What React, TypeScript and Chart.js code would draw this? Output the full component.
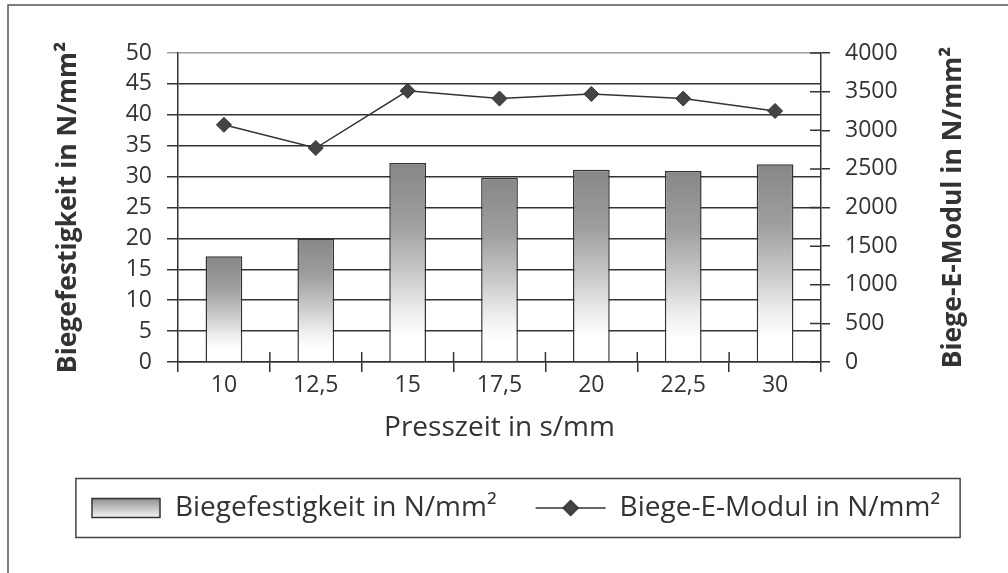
import React, { useEffect, useRef } from 'react';
import { Chart, registerables } from 'chart.js';

Chart.register(...registerables);

// ---- data ----
const categories = ['10', '12,5', '15', '17,5', '20', '22,5', '30'];
const strengthValues = [17.1, 20.0, 32.2, 29.8, 31.1, 30.9, 32.0];
const modulusValues = [3070, 2770, 3510, 3410, 3470, 3410, 3250];
const strengthLabel = 'Biegefestigkeit in N/mm²';
const modulusLabel = 'Biege-E-Modul in N/mm²';
const xTitle = 'Presszeit in s/mm';
const leftMax = 50;
const leftStep = 5;
const rightMax = 4000;
const rightStep = 500;

const FONT = "'Open Sans', 'Noto Sans', sans-serif";
const INK = '#333333';
const TITLE_SIZE = 26.5;

function addBarStops(g: CanvasGradient) {
  g.addColorStop(0, '#878787');
  g.addColorStop(0.3, '#9e9e9e');
  g.addColorStop(0.55, '#c8c8c8');
  g.addColorStop(0.75, '#eeeeee');
  g.addColorStop(0.88, '#ffffff');
  g.addColorStop(1, '#ffffff');
}

function makeBarSwatch() {
  const c = document.createElement('canvas');
  c.width = 70;
  c.height = 22;
  const x = c.getContext('2d')!;
  const g = x.createLinearGradient(0, 1.5, 0, 20.5);
  g.addColorStop(0, '#8e8e8e');
  g.addColorStop(0.5, '#c4c4c4');
  g.addColorStop(1, '#f4f4f4');
  x.fillStyle = g;
  x.fillRect(1, 1.5, 68, 19);
  x.strokeStyle = INK;
  x.lineWidth = 1.5;
  x.strokeRect(1, 1.5, 68, 19);
  return c;
}

function makeLineSwatch() {
  const c = document.createElement('canvas');
  c.width = 72;
  c.height = 18;
  const x = c.getContext('2d')!;
  x.strokeStyle = INK;
  x.lineWidth = 1.5;
  x.beginPath();
  x.moveTo(1, 9);
  x.lineTo(71, 9);
  x.stroke();
  x.fillStyle = '#444444';
  x.beginPath();
  x.moveTo(36 - 7.5, 9);
  x.lineTo(36, 9 - 7.5);
  x.lineTo(36 + 7.5, 9);
  x.lineTo(36, 9 + 7.5);
  x.closePath();
  x.fill();
  x.stroke();
  return c;
}

const decorPlugin = {
  id: 'decor',
  beforeDraw(chart: any) {
    const { ctx, width, height } = chart;
    ctx.save();
    ctx.fillStyle = '#ffffff';
    ctx.fillRect(0, 0, width, height);
    ctx.restore();
  },
  afterDraw(chart: any) {
    const { ctx } = chart;
    ctx.save();
    // outer frame (top + left)
    ctx.strokeStyle = '#555555';
    ctx.lineWidth = 1.5;
    ctx.beginPath();
    ctx.moveTo(8, chart.height);
    ctx.lineTo(8, 5);
    ctx.lineTo(chart.width, 5);
    ctx.stroke();

    // crossing tick marks (inner halves)
    const xs = chart.scales.x;
    const y2 = chart.scales.y2;
    ctx.strokeStyle = INK;
    ctx.lineWidth = 1.5;
    ctx.beginPath();
    const n = xs.ticks.length;
    const step = (xs.right - xs.left) / n;
    for (let i = 1; i < n; i++) {
      const x = xs.left + i * step;
      ctx.moveTo(x, xs.top - 10);
      ctx.lineTo(x, xs.top);
    }
    y2.ticks.forEach((t: any) => {
      const y = y2.getPixelForValue(t.value);
      ctx.moveTo(y2.left - 11, y);
      ctx.lineTo(y2.left, y);
    });
    ctx.stroke();

    // right axis title, reading bottom-to-top
    const ca = chart.chartArea;
    ctx.save();
    ctx.translate(953, (ca.top + ca.bottom) / 2);
    ctx.rotate(-Math.PI / 2);
    ctx.fillStyle = INK;
    ctx.font = `bold ${TITLE_SIZE}px ${FONT}`;
    ctx.textAlign = 'center';
    ctx.textBaseline = 'middle';
    ctx.fillText(modulusLabel, 0, 0);
    ctx.restore();

    // legend frame
    const hb = chart.legend && chart.legend.legendHitBoxes;
    if (hb && hb.length) {
      const first = hb[0];
      const last = hb[hb.length - 1];
      const l = first.left - 15;
      const r = last.left + last.width + 20;
      const t = first.top - 15.5;
      const b = first.top + first.height + 15.5;
      ctx.strokeStyle = '#444444';
      ctx.lineWidth = 1.5;
      ctx.strokeRect(l, t, r - l, b - t);
    }
    ctx.restore();
  },
};

export default function App() {
  const ref = useRef<HTMLCanvasElement>(null);

  useEffect(() => {
    const canvas = ref.current!;
    const barSwatch = makeBarSwatch();
    const lineSwatch = makeLineSwatch();

    const chart = new Chart(canvas, {
      type: 'bar',
      data: {
        labels: categories,
        datasets: [
          {
            type: 'bar',
            label: strengthLabel,
            data: strengthValues,
            yAxisID: 'y',
            order: 2,
            barPercentage: 0.4,
            categoryPercentage: 1,
            borderColor: INK,
            borderWidth: 1.5,
            backgroundColor: (c: any) => {
              const ch = c.chart;
              if (!ch.chartArea || c.type !== 'data') return '#aaaaaa';
              const ys = ch.scales.y;
              const top = ys.getPixelForValue(c.raw);
              const bottom = ys.getPixelForValue(0);
              const g = ch.ctx.createLinearGradient(0, top, 0, bottom);
              addBarStops(g);
              return g;
            },
          } as any,
          {
            type: 'line',
            label: modulusLabel,
            data: modulusValues,
            yAxisID: 'y2',
            order: 1,
            borderColor: INK,
            borderWidth: 1.5,
            tension: 0,
            fill: false,
            pointStyle: 'rectRot',
            pointRadius: 7.5,
            pointBackgroundColor: '#444444',
            pointBorderColor: INK,
            pointBorderWidth: 1,
          } as any,
        ],
      },
      options: {
        animation: false,
        responsive: false,
        devicePixelRatio: 1,
        layout: { padding: { top: 53, left: 23, right: 0, bottom: 41 } },
        plugins: {
          tooltip: { enabled: false },
          legend: {
            position: 'bottom',
            labels: {
              usePointStyle: true,
              pointStyleWidth: 70,
              padding: 39,
              color: INK,
              font: { family: FONT, size: 28 },
              generateLabels: (ch: any) =>
                ch.data.datasets.map((ds: any, i: number) => ({
                  text: ds.label,
                  datasetIndex: i,
                  pointStyle: i === 0 ? barSwatch : lineSwatch,
                  fontColor: INK,
                  hidden: !ch.isDatasetVisible(i),
                  lineWidth: 0,
                  strokeStyle: 'rgba(0,0,0,0)',
                  fillStyle: 'rgba(0,0,0,0)',
                })),
            },
          },
        },
        scales: {
          x: {
            type: 'category',
            offset: true,
            afterFit: (s: any) => {
              s.height = 93;
            },
            grid: {
              offset: true,
              drawOnChartArea: false,
              tickLength: 10,
              color: INK,
              lineWidth: 1.5,
            },
            border: { color: INK, width: 1.5 },
            ticks: {
              color: INK,
              padding: 0,
              font: { family: FONT, size: 23 },
              maxRotation: 0,
            },
            title: {
              display: true,
              text: xTitle,
              color: INK,
              font: { family: FONT, size: 28 },
              padding: { top: 0, bottom: 10 },
            },
          },
          y: {
            position: 'left',
            min: 0,
            max: leftMax,
            afterFit: (s: any) => {
              s.width = 155;
            },
            ticks: {
              stepSize: leftStep,
              color: INK,
              padding: 15,
              font: { family: FONT, size: 23 },
            },
            grid: {
              tickLength: 11,
              lineWidth: 1.5,
              color: (c: any) => (c.tick && c.tick.value === leftMax ? '#a0a0a0' : INK),
            },
            border: { color: INK, width: 1.5 },
            title: {
              display: true,
              text: strengthLabel,
              color: INK,
              font: { family: FONT, size: TITLE_SIZE, weight: 'bold' },
              padding: { top: 29.2, bottom: 0 },
            },
          },
          y2: {
            position: 'right',
            min: 0,
            max: rightMax,
            afterFit: (s: any) => {
              s.width = 187;
            },
            ticks: {
              stepSize: rightStep,
              color: INK,
              padding: 15,
              font: { family: FONT, size: 23 },
              callback: (v: any) => String(v),
            },
            grid: {
              drawOnChartArea: false,
              tickLength: 9,
              lineWidth: 1.5,
              color: INK,
            },
            border: { color: INK, width: 1.5 },
            title: { display: false },
          },
        },
      } as any,
      plugins: [decorPlugin],
    });

    return () => chart.destroy();
  }, []);

  return (
    <div style={{ position: 'fixed', left: 0, top: 0, width: 1008, height: 573, background: '#fff' }}>
      <canvas ref={ref} width={1008} height={573} style={{ display: 'block' }} />
    </div>
  );
}
